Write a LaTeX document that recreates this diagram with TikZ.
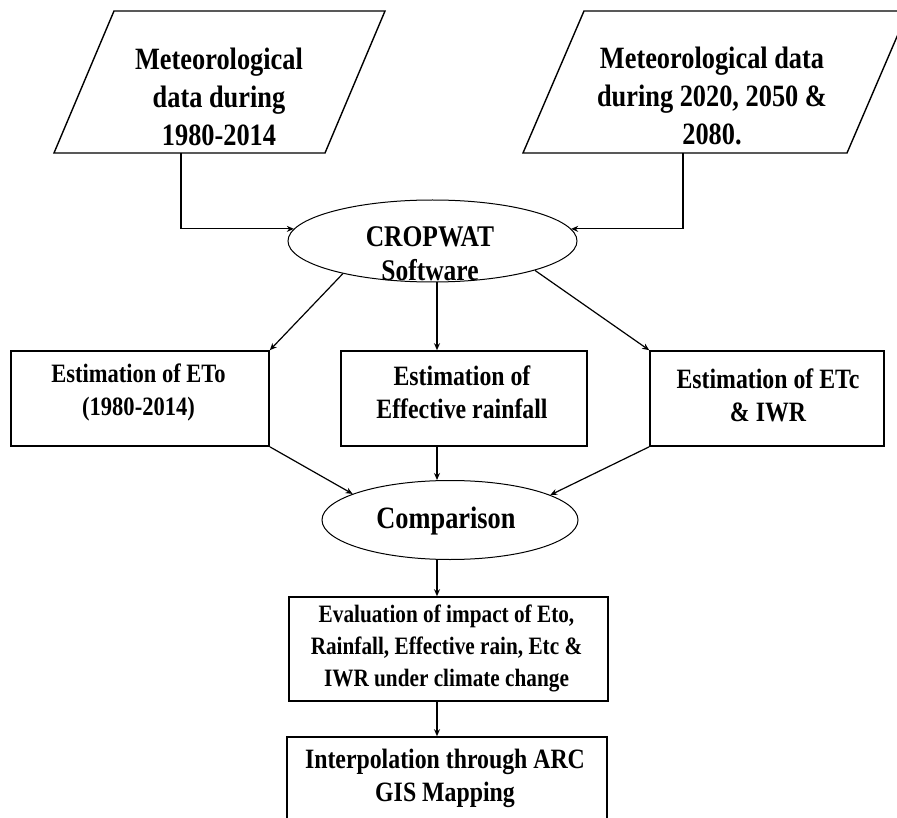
\documentclass[tikz,border=0pt]{standalone}
\usepackage{fontspec}
\setmainfont[FakeStretch=0.85]{Liberation Serif}
\usetikzlibrary{shapes.geometric, arrows.meta}
\newcommand\bigtxt{\fontsize{31}{38}\selectfont}
\newcommand\midtxt{\fontsize{28}{33}\selectfont}
\newcommand\cropwattxt{\fontsize{30}{34}\selectfont}
\newcommand\smalltxt{\fontsize{25}{32}\selectfont}

\begin{document}
\begin{tikzpicture}[
    x=1pt, y=-1pt,
    databox/.style={draw, line width=1.4pt, line join=miter},
    procbox/.style={draw, rectangle, line width=1.6pt, inner sep=0pt, minimum height=95pt},
    oval/.style={draw, ellipse, line width=1pt, inner sep=0pt},
    txt/.style={align=center, inner sep=0pt},
    flow/.style={line width=1.2pt, -{Stealth[length=7pt, width=6pt]}}
]

% Zona visible
\useasboundingbox (0,0) rectangle (897,818);
\clip (0,0) rectangle (897,818);

% Datos de entrada (paralelogramos)
\draw[databox] (54,153) -- (325,153) -- (385,11) -- (114,11) -- cycle;
\draw[databox] (523,153) -- (847,153) -- (908,11) -- (584,11) -- cycle;
\coordinate (histfoot) at (181,153);
\coordinate (futfoot) at (683,153);
\node[txt, font=\bfseries\bigtxt] (hist) at (219,97) {Meteorological\\data during\\1980-2014};
\node[txt, font=\bfseries\bigtxt] (fut) at (712,96) {Meteorological data\\during 2020, 2050 \&\\2080.};

% Software
\node[oval, minimum width=289pt, minimum height=82pt] (cropwat) at (432.5,241) {};
\node[txt, font=\bfseries\cropwattxt] (cropwatT) at (430,254) {CROPWAT\\Software};

% Estimaciones
\node[procbox, minimum width=258pt] (eto) at (140,398.5) {};
\node[procbox, minimum width=246pt] (effrain) at (464,398.5) {};
\node[procbox, minimum width=234pt] (etc) at (767,398.5) {};
\node[txt, font=\bfseries\fontsize{26.5}{33}\selectfont] (etoT) at (138.5,392) {Estimation of ETo\\(1980-2014)};
\node[txt, font=\bfseries\midtxt] (effrainT) at (462,392) {Estimation of\\Effective rainfall};
\node[txt, font=\bfseries\midtxt] (etcT) at (768,395) {Estimation of ETc\\\& IWR};

% Comparacion y resultados
\node[oval, minimum width=256pt, minimum height=79pt] (compare) at (450,520) {};
\node[txt, font=\bfseries\bigtxt] (compareT) at (446,521) {Comparison};
\node[procbox, minimum width=319pt, minimum height=104pt] (eval) at (448.5,649) {};
\node[txt, font=\bfseries\smalltxt] (evalT) at (446.5,648) {Evaluation of impact of Eto,\\Rainfall, Effective rain, Etc \&\\IWR under climate change};
\node[procbox, minimum width=320pt, minimum height=96pt] (interp) at (447,785) {};
\node[txt, font=\bfseries\midtxt] (interpT) at (445,778) {Interpolation through ARC\\GIS Mapping};

% Eje vertical de las flechas centrales
\coordinate (spine) at (437,0);

% Flechas
\draw[flow] (histfoot) |- (cropwat.175);
\draw[flow] (futfoot) |- (cropwat.5);
\draw[flow] (cropwat.200) -- (eto.north east);
\draw[flow] (cropwat.south -| spine) -- (effrain.north -| spine);
\draw[flow] (cropwat.344) -- (etc.north west);
\draw[flow] (eto.south east) -- (compare.165);
\draw[flow] (effrain.south -| spine) -- (compare.north -| spine);
\draw[flow] (etc.south west) -- (compare.14);
\draw[flow] (compare.south -| spine) -- (eval.north -| spine);
\draw[flow] (eval.south -| spine) -- (interp.north -| spine);

\end{tikzpicture}
\end{document}
